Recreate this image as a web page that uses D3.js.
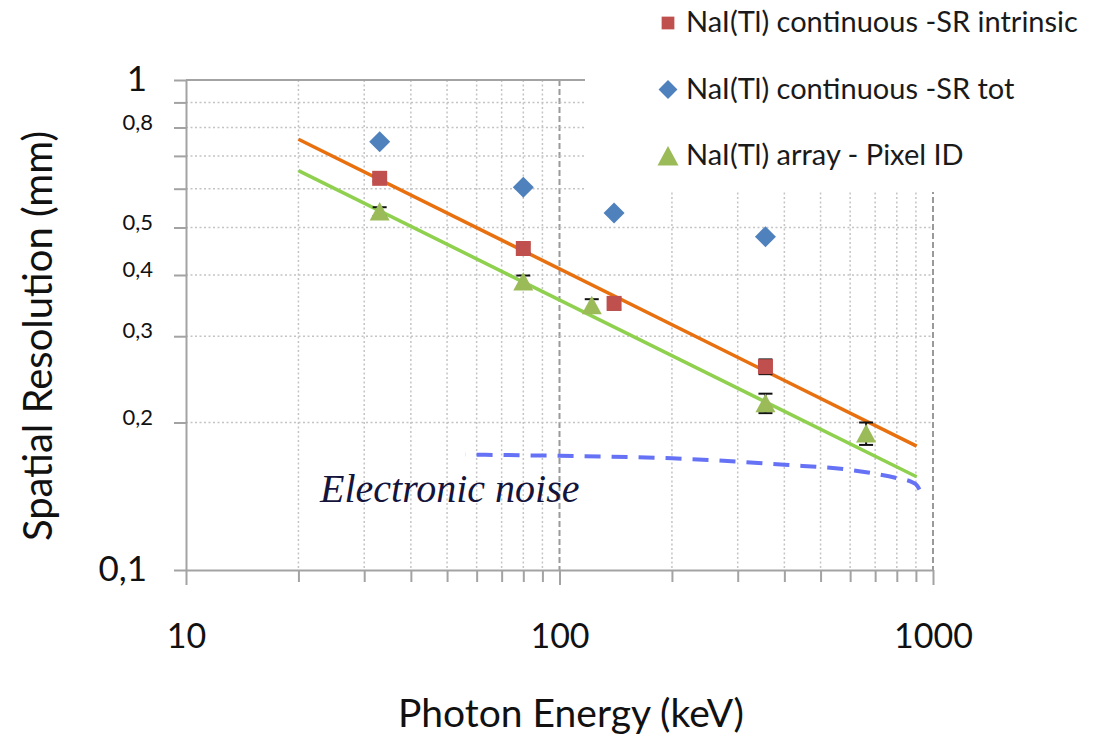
<!DOCTYPE html>
<html>
<head>
<meta charset="utf-8">
<script src="https://cdn.jsdelivr.net/npm/d3@7"></script>
<style>
  body { margin: 0; background: #fff; }
  text { font-family: Lato, "Open Sans", sans-serif; }
</style>
</head>
<body>
<script>
// measured points (keV, mm)
let energySR = [33, 80, 140, 356];
let srIntrinsic = [0.630, 0.453, 0.350, 0.260];
let srIntrinsicErr = [0.009, 0.009, 0.010, 0.009];
let srTot = [0.748, 0.604, 0.535, 0.479];

let energyPix = [33, 80, 122, 356, 662];
let pixelID = [0.539, 0.388, 0.347, 0.219, 0.190];
let pixelErr = [0.011, 0.011, 0.010, 0.010, 0.010];

// power-law trend lines, given by their two end points
let fitEnergy = [20, 904];
let fitIntrinsic = [0.757, 0.179];
let fitPixel = [0.653, 0.155];

// electronic noise curve
let noiseEnergy = [56, 100, 200, 400, 600, 800, 880, 905, 920];
let noiseRes = [0.172, 0.171, 0.169, 0.164, 0.160, 0.154, 0.151, 0.149, 0.146];

// ticks and labels
let xTicks = [10, 20, 30, 40, 50, 60, 70, 80, 90, 100, 200, 300, 400, 500, 600, 700, 800, 900, 1000];
let xMajor = [10, 100, 1000];
let yTicks = [0.1, 0.2, 0.3, 0.4, 0.5, 0.6, 0.7, 0.8, 0.9, 1];
let yLabelValues = [1, 0.8, 0.5, 0.4, 0.3, 0.2, 0.1];
let yLabelText = ["1", "0,8", "0,5", "0,4", "0,3", "0,2", "0,1"];

let legendNames = ["NaI(Tl) continuous -SR intrinsic", "NaI(Tl) continuous -SR tot", "NaI(Tl) array - Pixel ID"];

let axisColor = "#a3a3a3";
let gridColor = "#c4c4c4";

let svg = d3.select("body")
            .append("svg")
              .attr("width", 1104)
              .attr("height", 734)
              .style("background-color", "white");

let x = d3.scaleLog().domain([10, 1000]).range([186, 933]);
let y = d3.scaleLog().domain([0.1, 1]).range([570, 80]);

// grid
let grid = svg.append("g");
let minorX = xTicks.filter(d => !xMajor.includes(d));
grid.selectAll(".vminor").data(minorX).enter()
    .append("line")
      .attr("x1", d => x(d)).attr("x2", d => x(d))
      .attr("y1", y(1)).attr("y2", y(0.1))
      .attr("stroke", gridColor)
      .attr("stroke-width", 1.5)
      .attr("stroke-dasharray", "2,2.5");
grid.selectAll(".vmajor").data([100, 1000]).enter()
    .append("line")
      .attr("x1", d => x(d)).attr("x2", d => x(d))
      .attr("y1", y(1)).attr("y2", y(0.1))
      .attr("stroke", "#9a9a9a")
      .attr("stroke-width", 2)
      .attr("stroke-dasharray", "6,3");
grid.selectAll(".hminor").data(yTicks.filter(d => d > 0.15 && d < 0.95)).enter()
    .append("line")
      .attr("x1", x(10)).attr("x2", x(1000))
      .attr("y1", d => y(d)).attr("y2", d => y(d))
      .attr("stroke", gridColor)
      .attr("stroke-width", 1.5)
      .attr("stroke-dasharray", "2,2.5");
grid.append("line")
    .attr("x1", x(10)).attr("x2", x(1000))
    .attr("y1", y(1)).attr("y2", y(1))
    .attr("stroke", axisColor)
    .attr("stroke-width", 2);

// legend background hides the grid in the top right corner
svg.append("rect")
    .attr("x", 585).attr("y", 0)
    .attr("width", 519).attr("height", 192)
    .attr("fill", "white");

// axes
let xAxis = d3.axisBottom(x).tickValues(xTicks).tickSize(12).tickSizeOuter(0)
              .tickFormat(d => xMajor.includes(d) ? String(d) : "");
let gx = svg.append("g").attr("transform", "translate(0," + y(0.1) + ")").call(xAxis);
gx.select(".domain").attr("stroke", axisColor).attr("stroke-width", 2);
gx.selectAll(".tick line").attr("stroke", axisColor).attr("stroke-width", 2)
  .attr("y2", d => xMajor.includes(d) ? 15 : 12);
gx.selectAll(".tick text").attr("y", 54).attr("dy", "0.71em")
  .style("font-size", "34px").attr("fill", "#111");

let yAxis = d3.axisLeft(y).tickValues(yTicks).tickSize(12).tickSizeOuter(0).tickPadding(20)
              .tickFormat(d => {
                let i = yLabelValues.findIndex(v => Math.abs(v - d) < 1e-9);
                return i < 0 ? "" : yLabelText[i];
              });
let gy = svg.append("g").attr("transform", "translate(" + x(10) + ",0)").call(yAxis);
gy.select(".domain").attr("stroke", axisColor).attr("stroke-width", 2);
gy.selectAll(".tick line").attr("stroke", axisColor).attr("stroke-width", 2);
gy.selectAll(".tick text")
  .attr("fill", "#111")
  .style("font-size", d => (d === 1 || d === 0.1) ? "35px" : "22px")
  .attr("x", d => (d === 1 || d === 0.1) ? -39 : -33)
  .attr("dy", d => (d === 1 || d === 0.1) ? "0.3em" : "0.08em");

// axis titles
svg.append("text")
    .attr("x", 571).attr("y", 727)
    .attr("text-anchor", "middle")
    .style("font-size", "39px")
    .attr("fill", "#111")
    .text("Photon Energy (keV)");
svg.append("text")
    .attr("transform", "translate(52,336) rotate(-90)")
    .attr("text-anchor", "middle")
    .style("font-size", "40px")
    .attr("fill", "#111")
    .text("Spatial Resolution (mm)");

// electronic noise
let noiseLine = d3.line()
                  .x(d => x(d[0]))
                  .y(d => y(d[1]))
                  .curve(d3.curveMonotoneX);
let noisePath = svg.append("path")
    .datum(d3.zip(noiseEnergy, noiseRes))
    .attr("d", noiseLine)
    .attr("fill", "none")
    .attr("stroke", "#6672f5")
    .attr("stroke-width", 4)
    .attr("stroke-dasharray", "16,11");
// make the dash pattern finish on a dash at the right end
let noiseLen = noisePath.node().getTotalLength();
noisePath.attr("stroke-dashoffset", 16 - (noiseLen % 27));

svg.append("text")
    .attr("x", 320).attr("y", 502)
    .style("font-family", "'Liberation Serif', 'DejaVu Serif', serif")
    .style("font-style", "italic")
    .style("font-size", "40px")
    .attr("fill", "#14143c")
    .text("Electronic noise");

// trend lines
let straight = d3.line().x(d => x(d[0])).y(d => y(d[1]));
svg.append("path")
    .datum(d3.zip(fitEnergy, fitIntrinsic))
    .attr("d", straight)
    .attr("stroke", "#e8700f")
    .attr("stroke-width", 3.5)
    .attr("fill", "none");
svg.append("path")
    .datum(d3.zip(fitEnergy, fitPixel))
    .attr("d", straight)
    .attr("stroke", "#8fd14f")
    .attr("stroke-width", 3.5)
    .attr("fill", "none");

// error bars
function errorBars(energies, values, errs){
  let g = svg.append("g").attr("stroke", "#111").attr("stroke-width", 2);
  for (let i = 0; i < energies.length; i++){
    let cx = x(energies[i]);
    let top = y(values[i] + errs[i]);
    let bot = y(values[i] - errs[i]);
    g.append("line").attr("x1", cx).attr("x2", cx).attr("y1", top).attr("y2", bot);
    g.append("line").attr("x1", cx - 7).attr("x2", cx + 7).attr("y1", top).attr("y2", top);
    g.append("line").attr("x1", cx - 7).attr("x2", cx + 7).attr("y1", bot).attr("y2", bot);
  }
}
errorBars(energySR, srIntrinsic, srIntrinsicErr);
errorBars(energyPix, pixelID, pixelErr);

// markers
let squarePath = "M-7.5,-7.5H7.5V7.5H-7.5Z";
let diamondPath = "M0,-10.5L10.5,0L0,10.5L-10.5,0Z";
let trianglePath = "M0,-9.5L10,9L-10,9Z";

svg.selectAll(".tot").data(d3.zip(energySR, srTot)).enter()
    .append("path")
      .attr("class", "tot")
      .attr("d", diamondPath)
      .attr("transform", d => "translate(" + x(d[0]) + "," + y(d[1]) + ")")
      .attr("fill", "#4f81bd");
svg.selectAll(".intr").data(d3.zip(energySR, srIntrinsic)).enter()
    .append("path")
      .attr("class", "intr")
      .attr("d", squarePath)
      .attr("transform", d => "translate(" + x(d[0]) + "," + y(d[1]) + ")")
      .attr("fill", "#c0504d");
svg.selectAll(".pix").data(d3.zip(energyPix, pixelID)).enter()
    .append("path")
      .attr("class", "pix")
      .attr("d", trianglePath)
      .attr("transform", d => "translate(" + x(d[0]) + "," + y(d[1]) + ")")
      .attr("fill", "#9bbb59");

// legend
let legendShapes = [squarePath, diamondPath, trianglePath];
let legendColors = ["#c0504d", "#4f81bd", "#9bbb59"];
let legendScales = [0.85, 0.9, 1.05];
let legend = svg.selectAll(".legend").data(legendNames).enter()
    .append("g")
      .attr("class", "legend")
      .attr("transform", (d, i) => "translate(0," + (i * 66.5) + ")");
legend.append("path")
    .attr("d", (d, i) => legendShapes[i])
    .attr("transform", (d, i) => "translate(668,23) scale(" + legendScales[i] + ")")
    .attr("fill", (d, i) => legendColors[i]);
legend.append("text")
    .attr("x", 686).attr("y", 32)
    .style("font-size", "29px")
    .attr("fill", "#1a1a1a")
    .text(d => d);
</script>
</body>
</html>
